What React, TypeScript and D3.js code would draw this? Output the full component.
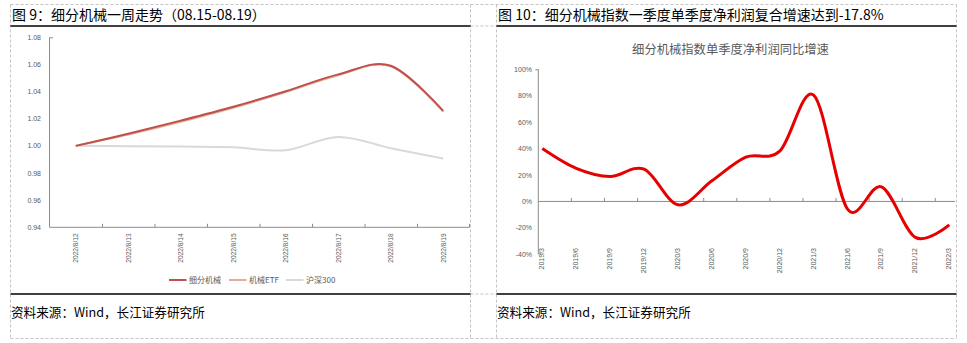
import React from 'react';
import * as d3 from 'd3';

// ---------- data ----------
const weekDates = ['2022/8/12', '2022/8/13', '2022/8/14', '2022/8/15', '2022/8/16', '2022/8/17', '2022/8/18', '2022/8/19'];
const mechIndex = [1.0, 1.009, 1.0186, 1.0288, 1.0403, 1.0527, 1.059, 1.0258];
const mechEtf = [1.0, 1.0084, 1.0178, 1.0281, 1.0396, 1.0521, 1.0587, 1.0252];
const hs300 = [1.0, 0.9998, 0.9995, 0.999, 0.9968, 1.0066, 0.9983, 0.9907];
const leftYTicks = [0.94, 0.96, 0.98, 1.0, 1.02, 1.04, 1.06, 1.08];
const legendNames = ['细分机械', '机械ETF', '沪深300'];

const quarters = ['2019/3', '2019/6', '2019/9', '2019/12', '2020/3', '2020/6', '2020/9', '2020/12', '2021/3', '2021/6', '2021/9', '2021/12', '2022/3'];
const profitGrowth = [40, 25, 18.8, 24.4, -2.5, 15.6, 33.5, 38, 80.5, -5.8, 11, -27.2, -17.8];
const rightYTicks = [-40, -20, 0, 20, 40, 60, 80, 100];

const leftTitle = '图 9：细分机械一周走势（08.15-08.19）';
const rightTitle = '图 10：细分机械指数一季度单季度净利润复合增速达到-17.8%';
const rightChartTitle = '细分机械指数单季度净利润同比增速';
const sourceText = '资料来源：Wind，长江证券研究所';

const CJK = '"Noto Sans CJK SC", "Liberation Sans", Arial, sans-serif';
const NUM = '"Liberation Sans", Arial, sans-serif';
const AXIS = '#8c8c8c';
const LABEL = '#595959';
const DASH = '#c4c4c4';

const colors = ['#c0504d', '#e0ad96', '#d9d9d9'];

export default function App() {
  // ---------- left chart ----------
  const lx = d3.scaleBand<string>().domain(weekDates).range([49.5, 469.5]);
  const ly = d3.scaleLinear().domain([0.94, 1.08]).range([227.3, 37.3]);
  const lcx = (i: number) => (lx(weekDates[i]) as number) + lx.bandwidth() / 2;
  const lineL = d3
    .line<number>()
    .x((_, i) => lcx(i))
    .y((d) => ly(d))
    .curve(d3.curveCardinal);
  const leftSeries = [hs300, mechEtf, mechIndex];
  const leftColors = [colors[2], colors[1], colors[0]];

  // ---------- right chart ----------
  const rx = d3.scalePoint<string>().domain(quarters).range([542.3, 949.3]);
  const ry = d3.scaleLinear().domain([-40, 100]).range([254.3, 69.3]);
  const lineR = d3
    .line<number>()
    .x((_, i) => rx(quarters[i]) as number)
    .y((d) => ry(d))
    .curve(d3.curveCardinal);
  const rAxisX = 538.3;
  const rAxisEnd = 955;
  const rTickStep = ((rx.step() as number) * 12 - 10) / 12;

  const legendX = [169, 229, 286];

  return (
    <svg
      width={967}
      height={343}
      style={{ position: 'absolute', left: 0, top: 0, background: '#fff' }}
    >
      <rect x={0} y={0} width={967} height={343} fill="#fff" />

      {/* dashed cell borders */}
      <g stroke={DASH} strokeWidth={1} strokeDasharray="3,2" fill="none">
        <line x1={10.5} y1={4.5} x2={956.5} y2={4.5} />
        <line x1={10.5} y1={338.5} x2={956.5} y2={338.5} />
        <line x1={10.5} y1={4.5} x2={10.5} y2={338.5} />
        <line x1={470.5} y1={4.5} x2={470.5} y2={338.5} />
        <line x1={496.5} y1={4.5} x2={496.5} y2={338.5} />
        <line x1={956.5} y1={4.5} x2={956.5} y2={338.5} />
        <line x1={470.5} y1={26} x2={496.5} y2={26} />
        <line x1={470.5} y1={294} x2={496.5} y2={294} />
      </g>

      {/* titles and rule lines */}
      <text x={12} y={20} fontFamily={CJK} fontSize={14} fill="#000">{leftTitle}</text>
      <text x={498} y={20} fontFamily={CJK} fontSize={14} fill="#000">{rightTitle}</text>
      <line x1={10.5} y1={26} x2={470.5} y2={26} stroke="#000" strokeWidth={1.5} />
      <line x1={496.5} y1={26} x2={956.5} y2={26} stroke="#000" strokeWidth={1.5} />
      <line x1={10.5} y1={294} x2={470.5} y2={294} stroke="#000" strokeWidth={1.5} />
      <line x1={496.5} y1={294} x2={956.5} y2={294} stroke="#000" strokeWidth={1.5} />
      <text x={11} y={317} fontFamily={CJK} fontSize={12.6} fill="#000">{sourceText}</text>
      <text x={497} y={317} fontFamily={CJK} fontSize={12.6} fill="#000">{sourceText}</text>

      {/* ---------- left chart ---------- */}
      <g>
        <line x1={49.5} y1={ly(1.08)} x2={49.5} y2={ly(0.94)} stroke={AXIS} strokeWidth={1} />
        <line x1={49.5} y1={ly(1.08) + 0.5} x2={53} y2={ly(1.08) + 0.5} stroke={AXIS} strokeWidth={1} />
        <line x1={49.5} y1={ly(0.94)} x2={469.5} y2={ly(0.94)} stroke={AXIS} strokeWidth={1} />
        {leftYTicks.map((t) => (
          <text
            key={t}
            x={41}
            y={ly(t) + 2.5}
            textAnchor="end"
            fontFamily={NUM}
            fontSize={7}
            fill={LABEL}
          >
            {t.toFixed(2)}
          </text>
        ))}
        {weekDates.map((d, i) => (
          <g key={d}>
            {i > 0 && (
              <line
                x1={(lx(d) as number) + 0.5}
                x2={(lx(d) as number) + 0.5}
                y1={ly(0.94)}
                y2={ly(0.94) - 3.5}
                stroke={AXIS}
              />
            )}
            <text
              transform={`translate(${lcx(i) + 2.4},${ly(0.94) + 6}) rotate(-90)`}
              textAnchor="end"
              fontFamily={NUM}
              fontSize={6.6}
              fill={LABEL}
            >
              {d}
            </text>
          </g>
        ))}
        <line x1={469.5} y1={ly(0.94)} x2={469.5} y2={ly(0.94) - 3.5} stroke={AXIS} />
        {leftSeries.map((s, k) => (
          <path key={k} d={lineL(s) || ''} fill="none" stroke={leftColors[k]} strokeWidth={2} />
        ))}
        {legendNames.map((n, k) => (
          <g key={n}>
            <line x1={legendX[k]} x2={legendX[k] + 17.5} y1={280} y2={280} stroke={colors[k]} strokeWidth={2} />
            <text x={legendX[k] + 20} y={283} fontFamily={CJK} fontSize={8} fill={LABEL}>{n}</text>
          </g>
        ))}
      </g>

      {/* ---------- right chart ---------- */}
      <g>
        <text x={730.5} y={54} textAnchor="middle" fontFamily={CJK} fontSize={12.3} fill={LABEL}>
          {rightChartTitle}
        </text>
        <line x1={rAxisX} y1={ry(100)} x2={rAxisX} y2={ry(-40)} stroke={AXIS} strokeWidth={1} />
        <line x1={rAxisX - 3} y1={ry(100) + 0.5} x2={rAxisX} y2={ry(100) + 0.5} stroke={AXIS} />
        <line x1={rAxisX} y1={ry(-40) - 0.5} x2={rAxisX + 3} y2={ry(-40) - 0.5} stroke={AXIS} />
        <line x1={rAxisX} y1={ry(0)} x2={rAxisEnd} y2={ry(0)} stroke={AXIS} strokeWidth={1} />
        {quarters.map((q, i) =>
          i > 0 ? (
            <line
              key={q}
              x1={rAxisX + rTickStep * i}
              x2={rAxisX + rTickStep * i}
              y1={ry(0)}
              y2={ry(0) - 3.5}
              stroke={AXIS}
            />
          ) : null
        )}
        {rightYTicks.map((t) => (
          <text
            key={t}
            x={532}
            y={ry(t) + 2.5}
            textAnchor="end"
            fontFamily={NUM}
            fontSize={7}
            fill={LABEL}
          >
            {`${t}%`}
          </text>
        ))}
        {quarters.map((q) => (
          <text
            key={q}
            transform={`translate(${(rx(q) as number) + 2},${248}) rotate(-90)`}
            textAnchor="end"
            fontFamily={NUM}
            fontSize={7}
            fill={LABEL}
          >
            {q}
          </text>
        ))}
        <path d={lineR(profitGrowth) || ''} fill="none" stroke="#e60000" strokeWidth={3} strokeLinejoin="round" />
      </g>
    </svg>
  );
}
